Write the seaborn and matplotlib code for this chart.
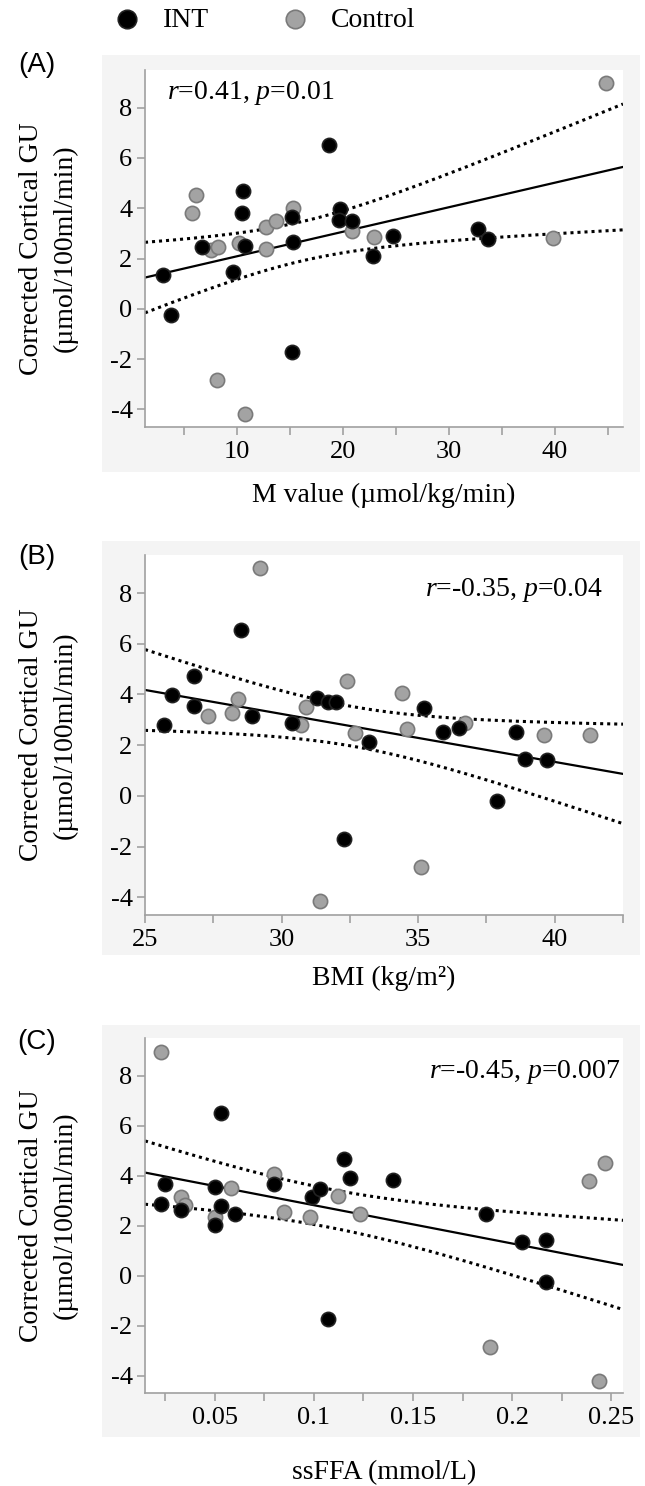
import numpy as np
import pandas as pd
import seaborn as sns
import matplotlib
matplotlib.use("Agg")
import matplotlib.pyplot as plt
from matplotlib.patches import Rectangle

sns.set_style("ticks")
plt.rcParams['font.family'] = ['Liberation Serif', 'DejaVu Serif']
plt.rcParams['axes.unicode_minus'] = False
plt.rcParams['mathtext.fontset'] = 'custom'
plt.rcParams['mathtext.it'] = 'Liberation Serif:italic'
plt.rcParams['mathtext.rm'] = 'Liberation Serif'
for key in ['text.color', 'xtick.labelcolor', 'ytick.labelcolor']:
    plt.rcParams[key] = 'black'

# (A) M value vs corrected cortical GU
mval_int = [3.0, 3.8, 6.7, 9.6, 10.6, 10.5, 10.8, 15.2, 15.3, 15.2, 18.7, 19.7, 19.6, 20.9, 22.8, 24.7, 32.7, 33.7]
gu_mval_int = [1.36, -0.24, 2.47, 1.45, 4.67, 3.83, 2.51, 3.67, 2.64, -1.72, 6.52, 3.97, 3.54, 3.48, 2.09, 2.91, 3.17, 2.78]
mval_ctl = [6.2, 5.8, 7.6, 8.2, 8.1, 10.2, 10.8, 12.8, 12.8, 13.7, 15.3, 20.9, 22.9, 39.8, 44.8]
gu_mval_ctl = [4.54, 3.81, 2.34, 2.47, -2.82, 2.60, -4.17, 3.27, 2.38, 3.50, 4.03, 3.11, 2.84, 2.81, 8.99]

# (B) BMI
bmi_int = [25.7, 26.0, 26.8, 26.8, 28.5, 28.9, 30.4, 31.3, 31.7, 32.0, 32.3, 33.2, 35.2, 35.9, 36.5, 37.9, 38.6, 38.9, 39.7]
gu_bmi_int = [2.79, 3.97, 4.71, 3.54, 6.54, 3.15, 2.88, 3.87, 3.71, 3.71, -1.71, 2.11, 3.48, 2.51, 2.66, -0.20, 2.51, 1.45, 1.40]
bmi_ctl = [29.2, 28.4, 28.2, 27.3, 30.7, 30.9, 31.4, 32.4, 32.7, 34.4, 34.6, 35.1, 36.7, 39.6, 41.3]
gu_bmi_ctl = [9.00, 3.81, 3.25, 3.15, 2.79, 3.52, -4.16, 4.53, 2.48, 4.04, 2.62, -2.80, 2.88, 2.39, 2.39]

# (C) ssFFA
ffa_int = [0.023, 0.025, 0.033, 0.050, 0.050, 0.053, 0.053, 0.060, 0.080, 0.099, 0.103, 0.107, 0.115, 0.118, 0.140, 0.187, 0.205, 0.217, 0.217]
gu_ffa_int = [2.86, 3.65, 2.62, 3.53, 2.02, 2.78, 6.50, 2.45, 3.66, 3.16, 3.45, -1.74, 4.65, 3.92, 3.82, 2.46, 1.35, 1.42, -0.25]
ffa_ctl = [0.023, 0.033, 0.035, 0.050, 0.058, 0.080, 0.085, 0.098, 0.112, 0.123, 0.189, 0.239, 0.247, 0.244]
gu_ffa_ctl = [8.96, 3.16, 2.82, 2.36, 3.49, 4.05, 2.56, 2.36, 3.20, 2.45, -2.85, 3.78, 4.49, -4.21]

y_ticks = [-4, -2, 0, 2, 4, 6, 8]
ylabel = 'Corrected Cortical GU\n(\u00b5mol/100ml/min)'

W, H = 645, 1486
fig = plt.figure(figsize=(W / 100, H / 100), dpi=100)


def px_box(x0, y0, x1, y1):
    # pixel box (top-left origin) -> figure fraction [left, bottom, width, height]
    return [x0 / W, 1 - y1 / H, (x1 - x0) / W, (y1 - y0) / H]


def panel(box, bg, xi, yi, xc, yc, xlim, major, minor, labels, xlabel, xlab_y,
          stat, stat_xy, stat_ha, letter, letter_y):
    fig.patches.append(Rectangle((bg[0] / W, 1 - bg[3] / H), (bg[2] - bg[0]) / W,
                                 (bg[3] - bg[1]) / H, transform=fig.transFigure,
                                 facecolor='#f4f4f4', edgecolor='none', zorder=-5))
    ax = fig.add_axes(px_box(*box))
    ax.set_facecolor('white')

    # least-squares fit with 95% confidence band on all subjects
    x = np.array(xi + xc)
    y = np.array(yi + yc)
    n = len(x)
    b1, b0 = np.polyfit(x, y, 1)
    xs = np.linspace(xlim[0], xlim[1], 200)
    yhat = b0 + b1 * xs
    s = np.sqrt(np.sum((y - (b0 + b1 * x)) ** 2) / (n - 2))
    se = s * np.sqrt(1 / n + (xs - x.mean()) ** 2 / np.sum((x - x.mean()) ** 2))
    t = 2.04
    ax.plot(xs, yhat, color='black', lw=1.6, zorder=2)
    ax.plot(xs, yhat + t * se, color='black', lw=2.2, ls=(0, (1, 1.3)), zorder=2)
    ax.plot(xs, yhat - t * se, color='black', lw=2.2, ls=(0, (1, 1.3)), zorder=2)

    sns.scatterplot(x=xc, y=yc, ax=ax, color='#a3a3a3', edgecolor='#7a7a7a',
                    linewidth=1.2, s=105, zorder=3, label='Control')
    sns.scatterplot(x=xi, y=yi, ax=ax, color='black', edgecolor='#222222',
                    linewidth=1.2, s=105, zorder=4, label='INT')
    ax.get_legend().remove()

    ax.set_xlim(*xlim)
    ax.set_ylim(-4.7, 9.5)
    ax.set_xticks(major)
    ax.set_xticklabels(labels)
    ax.set_xticks(minor, minor=True)
    ax.set_yticks(y_ticks)
    ax.set_yticklabels([str(v) for v in y_ticks])
    ax.set_xlabel('')
    ax.set_ylabel('')
    for side in ['top', 'right']:
        ax.spines[side].set_visible(False)
    for side in ['left', 'bottom']:
        ax.spines[side].set_color('#a0a0a0')
        ax.spines[side].set_linewidth(1.2)
    ax.tick_params(which='both', direction='out', length=6, width=1.2,
                   color='#a0a0a0', labelsize=19, pad=4, labelcolor='black')
    ax.tick_params(axis='y', labelsize=19, pad=3)

    ax.text(stat_xy[0], stat_xy[1], stat, transform=ax.transAxes, ha=stat_ha,
            va='center', fontsize=20, color='black')
    cx = (box[0] + box[2]) / 2
    fig.text(cx / W, 1 - xlab_y / H, xlabel, ha='center', va='center', fontsize=20)
    fig.text(48 / W, 1 - (box[1] + box[3]) / 2 / H, ylabel, rotation=90,
             ha='center', va='center', fontsize=20, linespacing=1.45)
    fig.text(37 / W, 1 - letter_y / H, letter, ha='center', va='center',
             fontsize=20, family='Liberation Sans')
    return ax


axA = panel((145, 70, 623, 427), (102, 55, 640, 472), mval_int, gu_mval_int, mval_ctl, gu_mval_ctl,
            (1.35, 46.4), [10, 20, 30, 40], [5, 15, 25, 35, 45], ['10', '20', '30', '40'],
            'M value (\u00b5mol/kg/min)', 495,
            r'$r$=0.41, $p$=0.01', (0.046, 0.936), 'left', '(A)', 65)

axB = panel((145, 555, 623, 915), (102, 541, 640, 955), bmi_int, gu_bmi_int, bmi_ctl, gu_bmi_ctl,
            (25, 42.5), [25, 30, 35, 40], [27.5, 32.5, 37.5, 42.5], ['25', '30', '35', '40'],
            'BMI (kg/m\u00b2)', 978,
            r'$r$=-0.35, $p$=0.04', (0.958, 0.903), 'right', '(B)', 557)

axC = panel((145, 1038, 623, 1393), (102, 1025, 640, 1437), ffa_int, gu_ffa_int, ffa_ctl, gu_ffa_ctl,
            (0.0147, 0.256), [0.05, 0.1, 0.15, 0.2, 0.25], [0.025, 0.075, 0.125, 0.175, 0.225],
            ['0.05', '0.1', '0.15', '0.2', '0.25'],
            'ssFFA (mmol/L)', 1473,
            r'$r$=-0.45, $p$=0.007', (0.994, 0.904), 'right', '(C)', 1042)

handles, labels = axA.get_legend_handles_labels()
order = [labels.index('INT'), labels.index('Control')]
fig.legend([handles[i] for i in order], [labels[i] for i in order], loc='center left',
           bbox_to_anchor=(88 / W, 1 - 20 / H), ncol=2, frameon=False, fontsize=20,
           handletextpad=0.8, columnspacing=2.6, handlelength=1.0, markerscale=1.3)

fig.savefig('out.png', dpi=100)
